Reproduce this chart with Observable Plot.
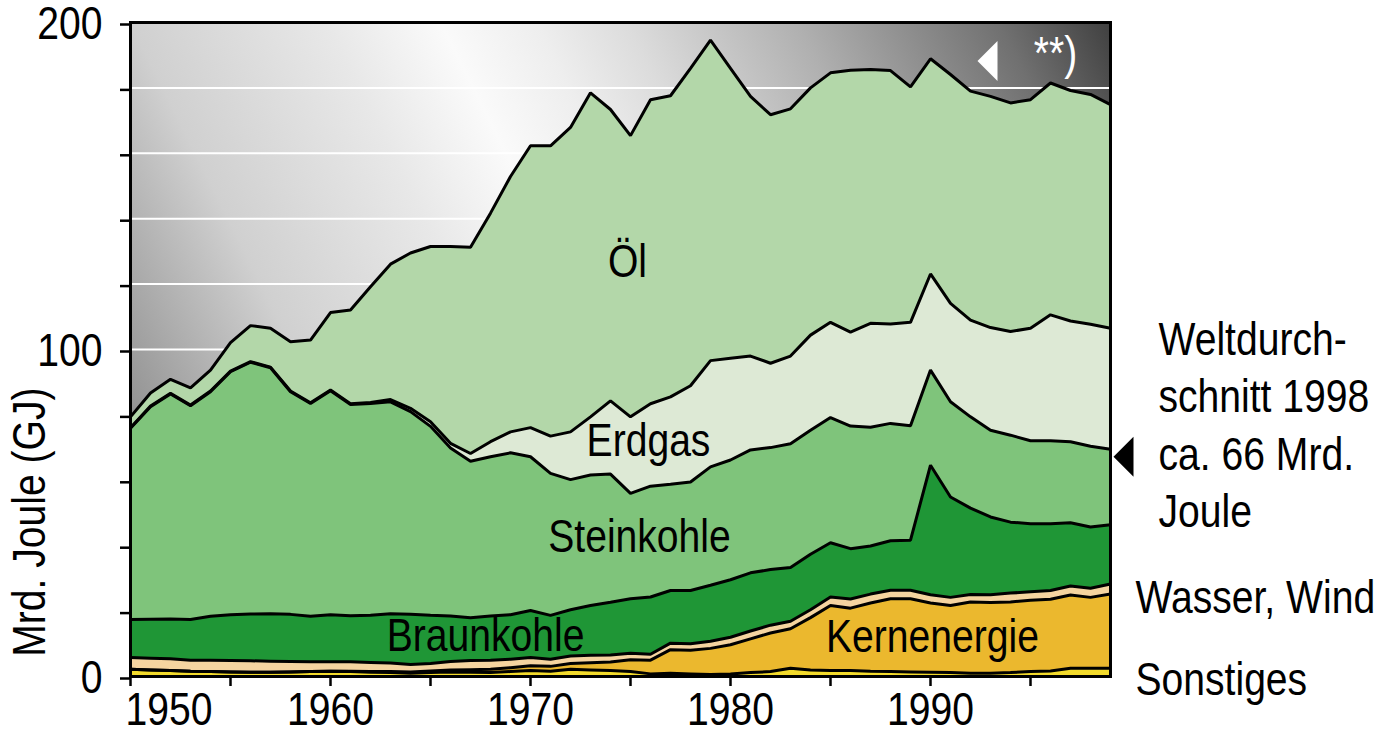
<!DOCTYPE html>
<html><head><meta charset="utf-8">
<script src="https://cdn.jsdelivr.net/npm/d3@7"></script>
<script src="https://cdn.jsdelivr.net/npm/@observablehq/plot@0.6"></script>
<style>
html,body{margin:0;padding:0;background:#fff;}
#chart svg{display:block;}
</style></head><body><div id="chart"></div>
<script>
const years = [1950,1951,1952,1953,1954,1955,1956,1957,1958,1959,
  1960,1961,1962,1963,1964,1965,1966,1967,1968,1969,
  1970,1971,1972,1973,1974,1975,1976,1977,1978,1979,
  1980,1981,1982,1983,1984,1985,1986,1987,1988,1989,
  1990,1991,1992,1993,1994,1995,1996,1997,1998,1999];

const seriesNames = ["Sonstiges","Kernenergie","Wasser, Wind","Braunkohle","Steinkohle","Erdgas","Öl"];
const seriesColors = ["#f2da2c","#ebb82e","#f5d4a0","#1f9636","#7fc47b","#dde9d5","#b3d7a9"];

const sonstiges = [2.2,2.0,1.8,1.6,1.5,1.4,1.3,1.3,1.4,1.5,
  1.6,1.5,1.3,1.2,1.0,1.2,1.4,1.3,1.2,1.5,
  1.8,1.6,2.2,2.0,1.8,1.5,0.8,1.0,0.8,0.6,
  0.8,1.2,1.5,2.5,2.0,1.8,1.8,1.6,1.5,1.4,
  1.3,1.2,1.0,1.0,1.2,1.5,1.7,2.5,2.5,2.5];
const kernenergie = [0,0,0,0,0,0,0,0,0,0,
  0,0.1,0.2,0.3,0.4,0.5,0.6,0.8,1.0,1.2,
  1.5,1.5,1.8,2.2,2.6,3.6,4.2,7.2,7.2,8.0,
  8.9,10.3,11.8,12.1,16.0,19.9,19.1,20.9,22.3,22.4,
  21.2,20.5,21.8,21.6,21.6,21.8,21.9,22.4,21.7,22.7];
const wasserWind = [3.6,3.6,3.6,3.4,3.5,3.5,3.5,3.4,3.2,3.0,
  2.9,2.9,2.8,2.6,2.3,2.3,2.6,2.8,2.8,2.6,
  2.5,2.2,2.3,2.3,2.2,2.0,1.8,2.0,2.0,2.2,
  2.3,2.4,2.4,2.3,2.4,2.6,2.8,2.7,2.6,2.6,
  2.5,2.5,2.3,2.4,2.7,2.6,2.7,2.8,2.8,3.1];
const braunkohle = [11.6,11.9,12.2,12.4,13.4,14.0,14.3,14.5,14.4,13.9,
  14.4,14.1,14.4,15.1,15.3,14.7,13.9,13.1,13.5,13.6,
  14.4,13.4,14.1,15.2,16.1,16.7,17.5,16.1,16.3,17.1,
  17.6,17.8,17.0,16.4,17.0,16.6,15.4,14.7,15.1,15.3,
  39.6,30.7,26.4,23.8,21.7,20.8,20.4,19.3,18.7,18.1];
const steinkohle = [58.5,65.0,68.8,65.4,68.7,74.3,77.0,75.2,68.1,65.1,
  68.5,64.6,64.8,64.8,62.0,57.8,51.4,47.8,48.7,49.5,
  47.0,43.4,39.8,39.9,39.2,32.2,33.9,32.5,33.2,36.2,
  36.6,37.6,37.3,37.9,37.9,38.3,37.5,36.3,35.9,35.0,
  29.1,29.1,27.9,26.5,26.6,25.4,25.4,24.8,24.7,23.1];
const erdgas = [0.2,0.2,0.2,0.2,0.2,0.2,0.2,0.2,0.2,0.2,
  0.2,0.2,0.3,0.7,1.0,1.4,1.4,2.4,4.6,6.4,
  8.9,11.4,14.6,17.8,22.4,23.4,25.2,26.7,29.4,32.5,
  31.1,28.7,25.8,26.8,29.1,29.1,28.7,31.8,30.4,31.6,
  29.4,30.1,29.6,31.4,31.7,34.4,38.5,36.9,37.3,37.0];
const oel = [3.3,4.0,4.3,5.3,6.4,8.7,11.0,11.9,15.1,19.2,
  23.7,28.7,35.4,41.4,47.5,53.6,60.2,63.1,69.9,78.1,
  86.2,88.8,93.1,99.1,89.1,86.0,93.0,92.1,97.1,98.0,
  88.7,79.4,76.0,75.6,75.6,76.3,80.1,77.6,77.5,72.0,
  65.8,70.0,70.0,70.7,69.9,69.9,70.9,70.5,70.3,68.4];

const yTicks = [0,20,40,60,80,100,120,140,160,180,200];
const yTickLabels = [0,100,200];
const xTicks = [1950,1955,1960,1965,1970,1975,1980,1985,1990,1995];
const xTickLabels = [1950,1960,1970,1980,1990];

const valuesBySeries = [sonstiges,kernenergie,wasserWind,braunkohle,steinkohle,erdgas,oel];
const data = [];
seriesNames.forEach((s,j)=>years.forEach((yr,i)=>data.push({year:yr, series:s, value:valuesBySeries[j][i]})));

const FONT = '"Liberation Sans",Arial,sans-serif';
const NARROW = 0.85; // condensed look of the original typeface
const leftTriangle = {draw(ctx){ctx.moveTo(-10,0);ctx.lineTo(10,-20);ctx.lineTo(10,20);ctx.closePath();}};

const areaLabels = [
  {text:"Öl", year:1974.85, v:126.8},
  {text:"Erdgas", year:1975.9, v:72.0},
  {text:"Steinkohle", year:1975.45, v:42.6},
  {text:"Braunkohle", year:1967.75, v:12.3},
  {text:"Kernenergie", year:1990.1, v:11.9}
];

const chart = Plot.plot({
  width:1397, height:733,
  marginLeft:130, marginRight:287, marginTop:22, marginBottom:57,
  style:{fontFamily:FONT, fontSize:"46px", background:"white", color:"black", overflow:"visible"},
  x:{domain:[1950,1999]},
  y:{domain:[0,200]},
  color:{domain:seriesNames, range:seriesColors},
  marks:[
    Plot.frame({fill:"url(#bgGrad)", stroke:"none"}),
    Plot.gridY(yTicks.filter(d=>d>0&&d<200), {stroke:"white", strokeOpacity:1, strokeWidth:2}),
    Plot.areaY(data, {x:"year", y:"value", fill:"series", order:seriesNames}),
    Plot.lineY(data, Plot.stackY2({x:"year", y:"value", z:"series", order:seriesNames, stroke:"black", strokeWidth:3, strokeLinejoin:"miter"})),
    Plot.axisY({ticks:yTicks, tickFormat:d=>yTickLabels.includes(d)?String(d):"", tickSize:10, tickPadding:18, strokeWidth:2.5, fontSize:46, dy:2, label:null}),
    Plot.axisX({ticks:xTicks, tickFormat:()=>"", tickSize:10, strokeWidth:2.5, label:null}),
    Plot.axisX({ticks:xTickLabels.slice(1), tickSize:0, tickPadding:16, tickFormat:d=>String(d), fontSize:46, label:null}),
    Plot.axisX({ticks:xTickLabels.slice(0,1), tickSize:0, tickPadding:16, textAnchor:"start", dx:-5, tickFormat:d=>String(d), fontSize:46, label:null}),
    Plot.frame({stroke:"black", strokeWidth:3}),
    Plot.text(areaLabels, {x:"year", y:"v", text:"text", fontSize:46, fill:"black"}),
    Plot.text(["**)"], {x:1996.25, y:190.2, fontSize:46, fill:"white"}),
    Plot.dot([0], {x:1992.85, y:188.2, symbol:leftTriangle, fill:"white", stroke:"none"}),
    Plot.dot([0], {x:1999.65, y:67.2, symbol:leftTriangle, fill:"black", stroke:"none"}),
    Plot.text(["Weltdurch-\nschnitt 1998\nca. 66 Mrd.\nJoule"], {x:1999, y:45.6, dx:48, textAnchor:"start", lineAnchor:"bottom", lineHeight:1.25, fontSize:46, fill:"black"}),
    Plot.text(["Wasser, Wind"], {x:1999, y:19.3, dx:25, textAnchor:"start", lineAnchor:"bottom", fontSize:46, fill:"black"}),
    Plot.text(["Sonstiges"], {x:1999, y:-5.8, dx:25, textAnchor:"start", lineAnchor:"bottom", fontSize:46, fill:"black"}),
    Plot.text(["Mrd. Joule (GJ)"], {x:1950, y:47.2, dx:-100, rotate:-90, fontSize:46, fill:"black"})
  ]
});

document.getElementById("chart").appendChild(chart);

const svgEl = chart.tagName.toLowerCase()==="svg" ? chart : chart.querySelector("svg");
const svg = d3.select(svgEl);

// condense every text horizontally around its own anchor
svg.selectAll("text").each(function(){
  const t = d3.select(this);
  const x = +t.attr("x") || 0, y = +t.attr("y") || 0;
  let tr = t.attr("transform") || "";
  if (x || y) { tr += ` translate(${x},${y})`; t.attr("x", null).attr("y", null); }
  t.attr("transform", (tr + ` scale(${NARROW},1)`).trim());
});

// background gradient for the frame (dark lower-left, bright streak, dark upper-right)
const xs = chart.scale("x"), ys = chart.scale("y");
const x0 = xs.apply(1950), y0 = ys.apply(0);
const k = 522.8;
const grad = svg.insert("defs", ":first-child").append("linearGradient")
  .attr("id","bgGrad").attr("gradientUnits","userSpaceOnUse")
  .attr("x1",x0).attr("y1",y0).attr("x2",x0+2*k).attr("y2",y0-k);
[[0,"#7a7a7a"],[0.1,"#929292"],[0.25,"#d0d0d0"],[0.4,"#e8e8e8"],[0.487,"#fafafa"],[0.56,"#eeeeee"],[0.63,"#dcdcdc"],[0.76,"#b0b0b0"],[0.915,"#707070"],[1,"#404040"]]
  .forEach(([o,c])=>grad.append("stop").attr("offset",o).attr("stop-color",c));
</script>
</body></html>
